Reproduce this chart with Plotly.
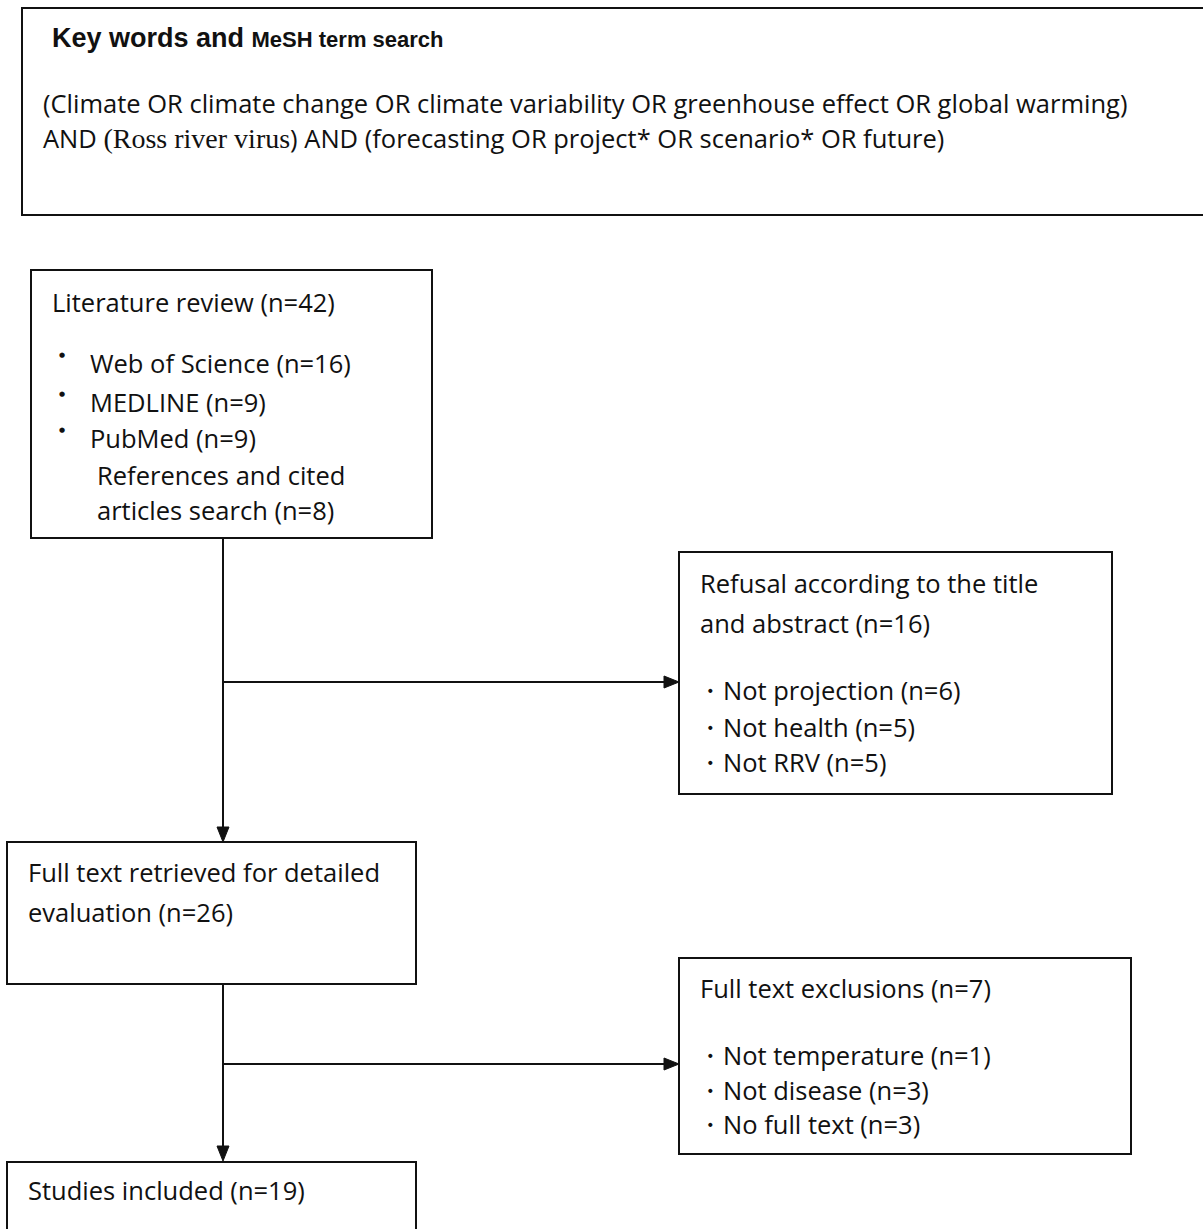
import plotly.graph_objects as go

# ---------------- data ----------------
search_title = "Key words and"
search_title_small = "MeSH term search"
search_line1 = "(Climate OR climate change OR climate variability OR greenhouse effect OR global warming)"
search_virus = "(Ross river virus"
search_line2_rest = ") AND (forecasting OR project* OR scenario* OR future)"

stage_names = ["Literature review", "Refusal according to the title and abstract",
               "Full text retrieved for detailed evaluation", "Full text exclusions",
               "Studies included"]
stage_counts = [42, 16, 26, 7, 19]

source_names = ["Web of Science", "MEDLINE", "PubMed", "References and cited articles search"]
source_counts = [16, 9, 9, 8]

refusal_reasons = ["Not projection", "Not health", "Not RRV"]
refusal_counts = [6, 5, 5]

exclusion_reasons = ["Not temperature", "Not disease", "No full text"]
exclusion_counts = [1, 3, 3]

# ---------------- layout / style ----------------
W, H = 1203, 1229
FONT = "'Open Sans', 'Noto Sans', sans-serif"
FS = 25.5
LINE = dict(color="#111111", width=2)

fig = go.Figure()
fig.add_trace(go.Scatter(x=[0, W], y=[0, H], mode="markers",
                         marker=dict(opacity=0), hoverinfo="skip", showlegend=False))

shapes = []
annotations = []


def box(x0, y0, x1, y1):
    shapes.append(dict(type="rect", xref="x", yref="y", x0=x0, y0=y0, x1=x1, y1=y1,
                       line=LINE, fillcolor="rgba(0,0,0,0)", layer="above"))


def seg(x0, y0, x1, y1):
    shapes.append(dict(type="line", xref="x", yref="y", x0=x0, y0=y0, x1=x1, y1=y1,
                       line=LINE, layer="above"))


def head_down(x, y):
    shapes.append(dict(type="path", xref="x", yref="y",
                       path=f"M {x-6} {y-15} L {x+6} {y-15} L {x} {y} Z",
                       fillcolor="#111111", line=dict(color="#111111", width=1)))


def head_right(x, y):
    shapes.append(dict(type="path", xref="x", yref="y",
                       path=f"M {x-15} {y-6} L {x-15} {y+6} L {x} {y} Z",
                       fillcolor="#111111", line=dict(color="#111111", width=1)))


def text(x, y, s, size=FS, family=FONT, yanchor="middle", xanchor="left"):
    annotations.append(dict(x=x, y=y, xref="x", yref="y", text=s, showarrow=False,
                            xanchor=xanchor, yanchor=yanchor, align="left",
                            font=dict(family=family, size=size, color="#111111")))


# search box (right side extends off page)
box(22, 8, W + 10, 215)
text(50, 38, f"<b>{search_title} <span style='font-size:22px'>{search_title_small}</span></b>",
     size=27, family="'Liberation Sans', Arial, sans-serif")
text(41, 103, search_line1)
text(41, 138, "AND <span style=\"font-family:'Liberation Serif', serif; font-size:28px\">"
     + search_virus + "</span>" + search_line2_rest)

# literature box
box(31, 270, 432, 538)
text(50, 302, f"{stage_names[0]} (n={stage_counts[0]})")
bullet_y = [363, 402, 438]
for i in range(3):
    text(62, bullet_y[i] - 8, "●", size=7, family="'DejaVu Sans', sans-serif", xanchor="center")
    text(88, bullet_y[i], f"{source_names[i]} (n={source_counts[i]})")
text(95, 475, "References and cited")
text(95, 510, f"articles search (n={source_counts[3]})")

# refusal box
box(679, 552, 1112, 794)
text(698, 583, "Refusal according to the title")
text(698, 623, f"and abstract (n={stage_counts[1]})")
for i, yy in enumerate([690, 727, 762]):
    text(695, yy, f"・{refusal_reasons[i]} (n={refusal_counts[i]})")

# full text box
box(7, 842, 416, 984)
text(26, 872, "Full text retrieved for detailed")
text(26, 912, f"evaluation (n={stage_counts[2]})")

# exclusions box
box(679, 958, 1131, 1154)
text(698, 988, f"{stage_names[3]} (n={stage_counts[3]})")
for i, yy in enumerate([1055, 1090, 1124]):
    text(695, yy, f"・{exclusion_reasons[i]} (n={exclusion_counts[i]})")

# studies box (bottom off page)
box(7, 1162, 416, H + 20)
text(26, 1190, f"{stage_names[4]} (n={stage_counts[4]})")

# connectors
seg(223, 538, 223, 828)
head_down(223, 842)
seg(223, 682, 665, 682)
head_right(679, 682)
seg(223, 984, 223, 1147)
head_down(223, 1161)
seg(223, 1064, 665, 1064)
head_right(679, 1064)

fig.update_layout(
    width=W, height=H,
    margin=dict(l=0, r=0, t=0, b=0),
    paper_bgcolor="white", plot_bgcolor="white",
    xaxis=dict(range=[0, W], visible=False, fixedrange=True),
    yaxis=dict(range=[H, 0], visible=False, fixedrange=True),
    shapes=shapes, annotations=annotations,
    showlegend=False,
)

fig.write_html("out.html", config={"displayModeBar": False},
               post_script="document.body.style.margin='0px';document.body.style.overflow='hidden';")
